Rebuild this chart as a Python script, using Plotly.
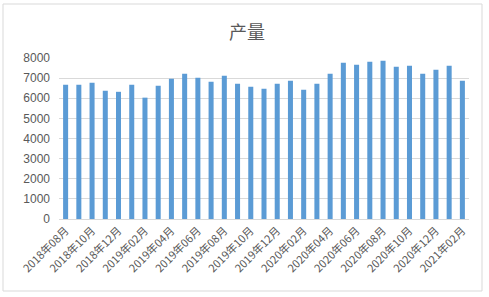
import plotly.graph_objects as go

months = ["2018年08月","2018年09月","2018年10月","2018年11月","2018年12月","2019年01月","2019年02月",
          "2019年03月","2019年04月","2019年05月","2019年06月","2019年07月","2019年08月","2019年09月",
          "2019年10月","2019年11月","2019年12月","2020年01月","2020年02月","2020年03月","2020年04月",
          "2020年05月","2020年06月","2020年07月","2020年08月","2020年09月","2020年10月","2020年11月",
          "2020年12月","2021年01月","2021年02月"]
output = [6670, 6670, 6770, 6370, 6320, 6670, 6030, 6620, 6970, 7220, 7020, 6820, 7120, 6720,
          6570, 6470, 6720, 6870, 6420, 6720, 7220, 7760, 7670, 7810, 7860, 7570, 7620, 7220,
          7420, 7620, 6870]
tick_labels = months[::2]

L, R, T, B = 59, 469, 58, 219
W, H = 489, 297

fig = go.Figure(go.Bar(x=months, y=output, marker_color="#5b9bd5", marker_line_width=0))

def px2paper_x(px):
    return (px - L) / (R - L)

def px2paper_y(py):
    return (B - py) / (B - T)

fig.add_shape(type="rect", xref="paper", yref="paper",
              x0=px2paper_x(3), x1=px2paper_x(482), y0=px2paper_y(291), y1=px2paper_y(4),
              line=dict(color="#d9d9d9", width=1), fillcolor="rgba(0,0,0,0)", layer="below")

fig.update_layout(
    width=W, height=H,
    margin=dict(l=L, r=W - R, t=T, b=H - B, pad=0),
    paper_bgcolor="white", plot_bgcolor="white",
    bargap=0.62,
    showlegend=False,
    title=dict(text="产量", x=(247) / W, xanchor="center", y=1 - 33 / H, yanchor="middle",
               font=dict(family="Noto Sans CJK SC", size=18, color="#595959")),
    font=dict(family="Noto Sans CJK SC", color="#595959"),
    xaxis=dict(type="category", tickmode="array", tickvals=tick_labels, ticktext=tick_labels,
               tickangle=-45, tickfont=dict(size=11, color="#595959", family="Noto Sans CJK SC"),
               showgrid=False, showline=True, linecolor="#d9d9d9", linewidth=1, ticks=""),
    yaxis=dict(range=[0, 8000], dtick=1000, showgrid=True, gridcolor="#d9d9d9", gridwidth=1,
               zeroline=False, showline=False, ticks="", ticklabelstandoff=8,
               tickfont=dict(size=12, color="#595959", family="Liberation Sans")),
)

fig.write_html("out.html")
